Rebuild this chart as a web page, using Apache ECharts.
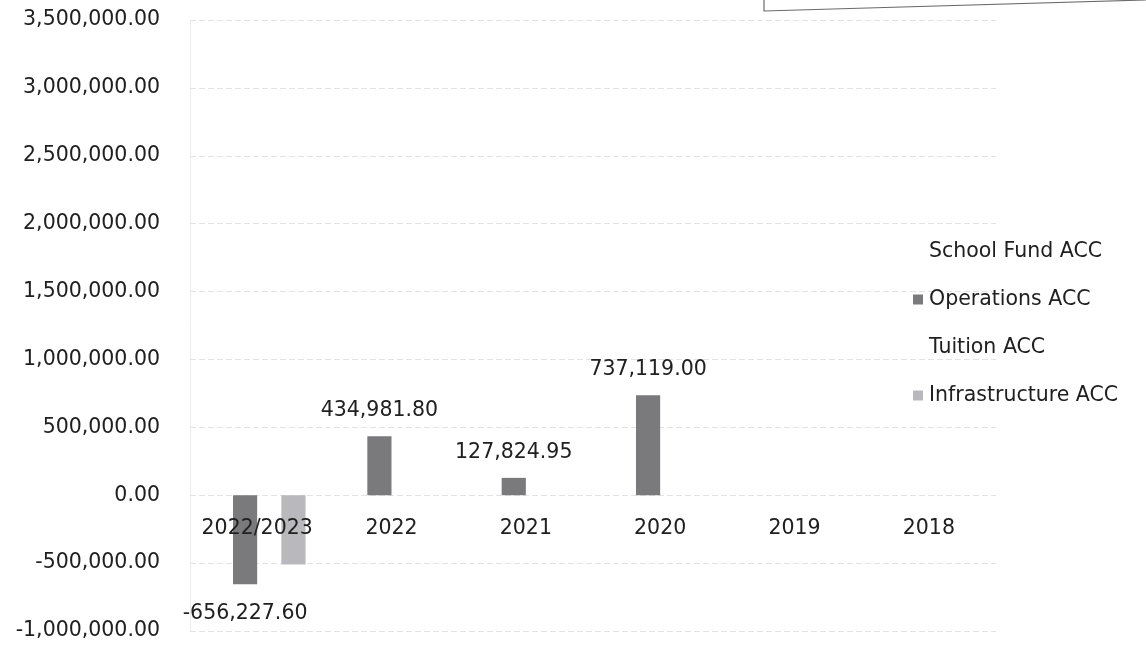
<!DOCTYPE html>
<html>
<head>
<meta charset="utf-8">
<script src="https://cdn.jsdelivr.net/npm/echarts@6/dist/echarts.min.js"></script>
<style>
  html, body { margin: 0; padding: 0; background: #ffffff; }
  #chart { width: 1146px; height: 657px; }
</style>
</head>
<body>
<div id="chart"></div>
<script>
// Account balances by year
const categories = ['2022/2023', '2022', '2021', '2020', '2019', '2018'];
const seriesNames = ['School Fund ACC', 'Operations ACC', 'Tuition ACC', 'Infrastructure ACC'];
const schoolFund = [null, null, null, null, null, null];
const operations = [-656227.60, 434981.80, 127824.95, 737119.00, null, null];
const tuition = [null, null, null, null, null, null];
const infrastructure = [-510000, null, null, null, null, null];
const yMin = -1000000, yMax = 3500000, yStep = 500000;

function money(v) {
  const neg = v < 0;
  const s = Math.abs(v).toFixed(2);
  const [i, d] = s.split('.');
  return (neg ? '-' : '') + i.replace(/\B(?=(\d{3})+(?!\d))/g, ',') + '.' + d;
}

const FONT = 'DejaVu Sans';
const FS = 20.5;
const TEXT = '#202020';

const W = 1146, H = 657;
const GRID = { left: 190, right: 150, top: 20, bottom: 26 };
// Category labels sit on the zero line, so shift the x axis up by zero's distance from the bottom
const plotH = H - GRID.top - GRID.bottom;
const zeroOffset = -plotH * (0 - yMin) / (yMax - yMin);

const chart = echarts.init(document.getElementById('chart'));
chart.setOption({
  backgroundColor: '#ffffff',
  animation: false,
  textStyle: { fontFamily: FONT },
  grid: Object.assign({ containLabel: false, outerBoundsMode: 'none' }, GRID),
  legend: {
    orient: 'vertical',
    left: 908,
    top: 236,
    icon: 'rect',
    itemWidth: 10,
    itemHeight: 10,
    itemGap: 27,
    data: seriesNames,
    textStyle: { fontFamily: FONT, fontSize: FS, color: TEXT, padding: [0, 0, 0, 1] }
  },
  xAxis: {
    type: 'category',
    data: categories,
    position: 'bottom',
    offset: zeroOffset,
    z: 10,
    axisLine: { show: false, onZero: false },
    axisTick: { show: false },
    axisLabel: { fontFamily: FONT, fontSize: FS, color: TEXT, margin: 23, interval: 0 },
    splitLine: { show: false }
  },
  yAxis: {
    type: 'value',
    min: yMin, max: yMax, interval: yStep,
    axisLine: { show: true, lineStyle: { color: '#ececec', width: 1 } },
    axisTick: { show: false },
    axisLabel: { fontFamily: FONT, fontSize: FS, color: TEXT, margin: 30, formatter: v => money(v) },
    splitLine: { show: true, lineStyle: { color: '#e3e3e3', width: 1, type: [6, 3] } }
  },
  series: [
    { name: seriesNames[0], type: 'bar', data: schoolFund, barGap: '0%', barCategoryGap: '28%',
      itemStyle: { color: '#ffffff' } },
    { name: seriesNames[1], type: 'bar', itemStyle: { color: '#7a7a7c' },
      // Negative values carry their label below the bar
      data: operations.map(v => v === null ? null : (v < 0
        ? { value: v, label: { position: 'bottom', distance: 19 } }
        : v)),
      label: {
        show: true, fontFamily: FONT, fontSize: FS, color: TEXT, distance: 15,
        position: 'top',
        formatter: p => money(p.value)
      }
    },
    { name: seriesNames[2], type: 'bar', data: tuition, itemStyle: { color: '#ffffff' } },
    { name: seriesNames[3], type: 'bar', data: infrastructure, itemStyle: { color: '#b9b9bd' } }
  ],
  graphic: [
    { type: 'polyline', silent: true,
      shape: { points: [[764, 0], [764, 11], [1146, 0]] },
      style: { stroke: '#6a6a6a', lineWidth: 1.2, fill: null } }
  ]
});
</script>
</body>
</html>
